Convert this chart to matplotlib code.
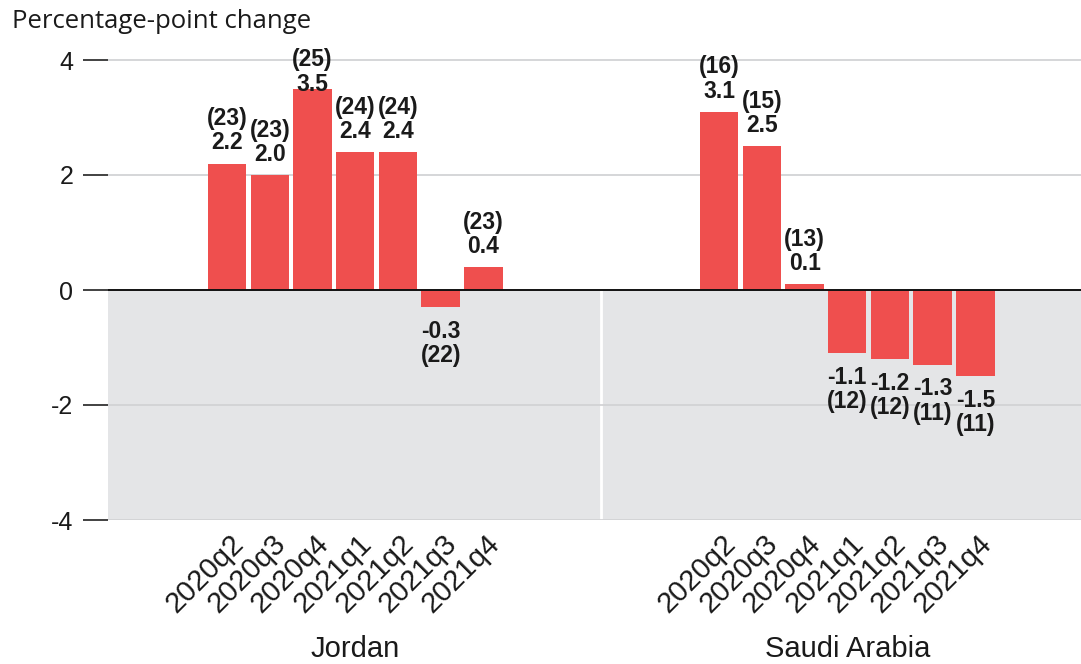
import matplotlib
matplotlib.use("Agg")
import matplotlib.pyplot as plt

# ---- data ----
countries = ["Jordan", "Saudi Arabia"]
quarters = ["2020q2", "2020q3", "2020q4", "2021q1", "2021q2", "2021q3", "2021q4"]
jordan_values = [2.2, 2.0, 3.5, 2.4, 2.4, -0.3, 0.4]
jordan_counts = [23, 23, 25, 24, 24, 22, 23]
saudi_values = [3.1, 2.5, 0.1, -1.1, -1.2, -1.3, -1.5]
saudi_counts = [16, 15, 13, 12, 12, 11, 11]
y_ticks = [-4, -2, 0, 2, 4]
y_title = "Percentage-point change"

values = [jordan_values, saudi_values]
counts = [jordan_counts, saudi_counts]

BAR = "#ef4f4e"
BG = "#e4e5e7"
TXT = "#1a1a1a"

fig = plt.figure(figsize=(10.81, 6.64), dpi=100)
ax = fig.add_axes([108/1081, 1-520/664, 984/1081, (520-42.75)/664])

group_gap = 11.52
xmin, xmax = -2.79, -2.79 + 2*group_gap
ax.set_xlim(xmin, xmax)
ax.set_ylim(-4, 4.3)

# gray negative region
ax.axhspan(-4, 0, color=BG, zorder=0, lw=0)
# separator between panels
sep = 6 + (group_gap - 6) / 2
ax.plot([sep, sep], [-4, 0], color="white", lw=2, zorder=0.5)

# gridlines
for t in y_ticks:
    if t == 0:
        continue
    ax.axhline(t, color="#d2d3d5", lw=1.3, zorder=1)
ax.axhline(0, color="#111111", lw=1.4, zorder=4)

reg_font = ["Liberation Sans", "DejaVu Sans"]
lab_kw = dict(fontsize=16.5, fontweight="bold", family=reg_font,
              color=TXT, linespacing=1.08, zorder=5, annotation_clip=False)
label_top_limit = 3.38

for g, (vals, cnts) in enumerate(zip(values, counts)):
    xs = [i + g*group_gap for i in range(len(vals))]
    ax.bar(xs, vals, width=0.9, color=BAR, zorder=3, edgecolor="none")
    for x, v, c in zip(xs, vals, cnts):
        if v >= 0:
            ax.annotate(f"({c})\n{v:.1f}", (x, min(v, label_top_limit)),
                        xytext=(0, 6.5 if v < label_top_limit else 0),
                        textcoords="offset points", ha="center", va="bottom", **lab_kw)
        else:
            ax.annotate(f"{v:.1f}\n({c})", (x, v), xytext=(0, -9),
                        textcoords="offset points", ha="center", va="top", **lab_kw)
    # rotated quarter labels
    for x, q in zip(xs, quarters):
        ax.annotate(q, (x, -4), xytext=(8.5, -14), textcoords="offset points",
                    ha="right", va="center", rotation=45, rotation_mode="anchor",
                    fontsize=21, family=reg_font, color=TXT, annotation_clip=False)
    # country label
    ax.annotate(countries[g], (xs[3], -4), xytext=(0, -93), textcoords="offset points",
                ha="center", va="center", fontsize=21, family=reg_font, color=TXT,
                annotation_clip=False)

# axes styling
for s in ax.spines.values():
    s.set_visible(False)
ax.set_xticks([])
ax.set_yticks(y_ticks)
ax.set_yticklabels([str(t) for t in y_ticks], fontsize=18, family=reg_font, color=TXT)
ax.tick_params(axis="y", length=18, width=1.3, color="#333333", pad=7)

fig.text(12/1081, 1-22/664, y_title, fontsize=18.5, family=["Open Sans", "DejaVu Sans"],
         color=TXT, ha="left", va="center")

fig.savefig("out.png", dpi=100)
